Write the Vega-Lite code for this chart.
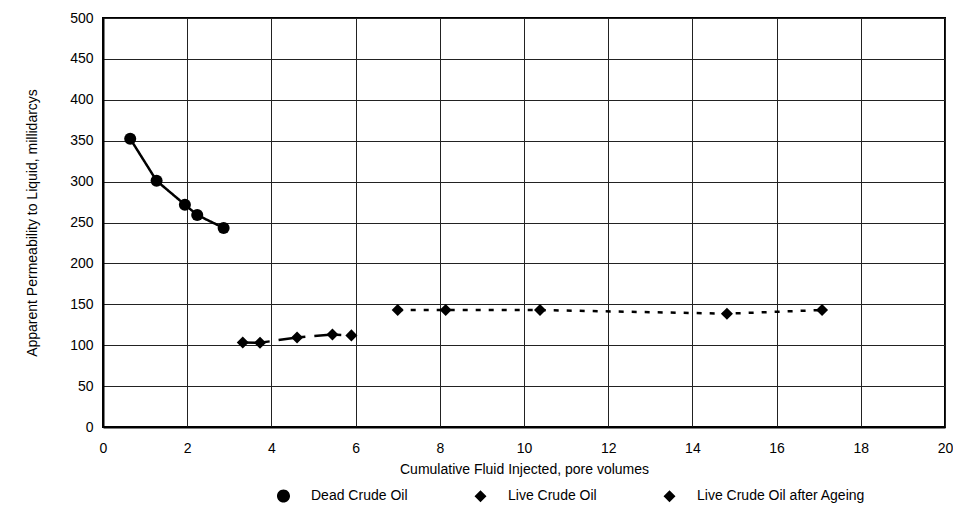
{
  "$schema": "https://vega.github.io/schema/vega-lite/v6.json",
  "width": 842,
  "height": 409,
  "autosize": {"type": "none"},
  "padding": {"left": 103, "top": 18, "right": 8, "bottom": 94},
  "background": "white",
  "config": {
    "font": "Liberation Sans",
    "view": {"stroke": "black", "strokeWidth": 2},
    "axis": {
      "labelFont": "Liberation Sans",
      "labelFontSize": 14,
      "labelColor": "black",
      "titleFont": "Liberation Sans",
      "titleFontSize": 14,
      "titleFontWeight": "normal",
      "titleColor": "black",
      "gridColor": "#222",
      "gridWidth": 1,
      "gridOpacity": 1,
      "domainColor": "black",
      "domainWidth": 2,
      "tickSize": 0,
      "ticks": false
    }
  },
  "data": {
    "values": [
      {"series": "Dead Crude Oil", "pv": 0.646, "perm": 352.4},
      {"series": "Dead Crude Oil", "pv": 1.273, "perm": 301},
      {"series": "Dead Crude Oil", "pv": 1.945, "perm": 271.8},
      {"series": "Dead Crude Oil", "pv": 2.238, "perm": 259.2},
      {"series": "Dead Crude Oil", "pv": 2.865, "perm": 243.3},
      {"series": "Live Crude Oil", "pv": 3.32, "perm": 103.4},
      {"series": "Live Crude Oil", "pv": 3.73, "perm": 103},
      {"series": "Live Crude Oil", "pv": 4.61, "perm": 109.5},
      {"series": "Live Crude Oil", "pv": 5.45, "perm": 113},
      {"series": "Live Crude Oil", "pv": 5.9, "perm": 112},
      {"series": "Live Crude Oil after Ageing", "pv": 7.0, "perm": 143},
      {"series": "Live Crude Oil after Ageing", "pv": 8.14, "perm": 143},
      {"series": "Live Crude Oil after Ageing", "pv": 10.38, "perm": 143},
      {"series": "Live Crude Oil after Ageing", "pv": 14.82, "perm": 138.5},
      {"series": "Live Crude Oil after Ageing", "pv": 17.08, "perm": 143}
    ]
  },
  "encoding": {
    "x": {
      "field": "pv",
      "type": "quantitative",
      "scale": {"domain": [0, 20], "nice": false, "zero": false},
      "axis": {
        "values": [0, 2, 4, 6, 8, 10, 12, 14, 16, 18, 20],
        "title": "Cumulative Fluid Injected, pore volumes",
        "labelPadding": 14,
        "titlePadding": 7,
        "labelFlush": false
      }
    },
    "y": {
      "field": "perm",
      "type": "quantitative",
      "scale": {"domain": [0, 500], "nice": false},
      "axis": {
        "values": [0, 50, 100, 150, 200, 250, 300, 350, 400, 450, 500],
        "title": "Apparent Permeability to Liquid, millidarcys",
        "labelPadding": 10,
        "titlePadding": 30
      }
    }
  },
  "resolve": {"scale": {"shape": "independent"}, "legend": {"shape": "independent"}},
  "layer": [
    {
      "mark": {"type": "line", "color": "black", "strokeWidth": 2.5},
      "encoding": {
        "strokeDash": {
          "field": "series",
          "type": "nominal",
          "scale": {
            "domain": ["Live Crude Oil", "Dead Crude Oil", "Live Crude Oil after Ageing"],
            "range": [[27, 9], [1, 0], [5, 8]]
          },
          "legend": null
        }
      }
    },
    {
      "mark": {"type": "point", "filled": true, "color": "black", "opacity": 1, "size": 145},
      "encoding": {
        "shape": {
          "field": "series",
          "type": "nominal",
          "scale": {
            "domain": ["Dead Crude Oil", "Live Crude Oil", "Live Crude Oil after Ageing"],
            "range": ["circle", "diamond", "diamond"]
          },
          "legend": null
        }
      }
    },
    {
      "mark": {"type": "point", "filled": true, "fill": "black", "stroke": "black", "strokeWidth": 2.5, "opacity": 0, "size": 1},
      "encoding": {
        "shape": {
          "field": "series",
          "type": "nominal",
          "scale": {
            "domain": ["Dead Crude Oil", "Live Crude Oil", "Live Crude Oil after Ageing"],
            "range": [
              "M-1,0L1,0M-0.283,0A0.283,0.283,0,1,1,0.283,0A0.283,0.283,0,1,1,-0.283,0Z",
              "M-1,0L-0.5,0M-0.28,0L1,0M0,-0.26L0.26,0L0,0.26L-0.26,0Z",
              "M-1,0L-0.83,0M-0.61,0L-0.44,0M-0.22,0L0.22,0M0.44,0L0.61,0M0.83,0L1,0M0,-0.26L0.26,0L0,0.26L-0.26,0Z"
            ]
          },
          "legend": {
            "title": null,
            "orient": "none",
            "legendX": 156,
            "legendY": 453,
            "direction": "horizontal",
            "padding": 0,
            "symbolSize": 2116,
            "symbolFillColor": "black",
            "symbolStrokeColor": "black",
            "symbolStrokeWidth": 2.5,
            "symbolOpacity": 1,
            "labelOffset": 3,
            "columnPadding": 44,
            "labelLimit": 400,
            "labelFont": "Liberation Sans",
            "labelFontSize": 14,
            "labelColor": "black",
            "encode": {
              "symbols": {
                "update": {
                  "fill": {"value": "black"},
                  "stroke": {"value": "black"},
                  "strokeWidth": {"value": 2.5},
                  "opacity": {"value": 1}
                }
              }
            }
          }
        }
      }
    }
  ]
}
